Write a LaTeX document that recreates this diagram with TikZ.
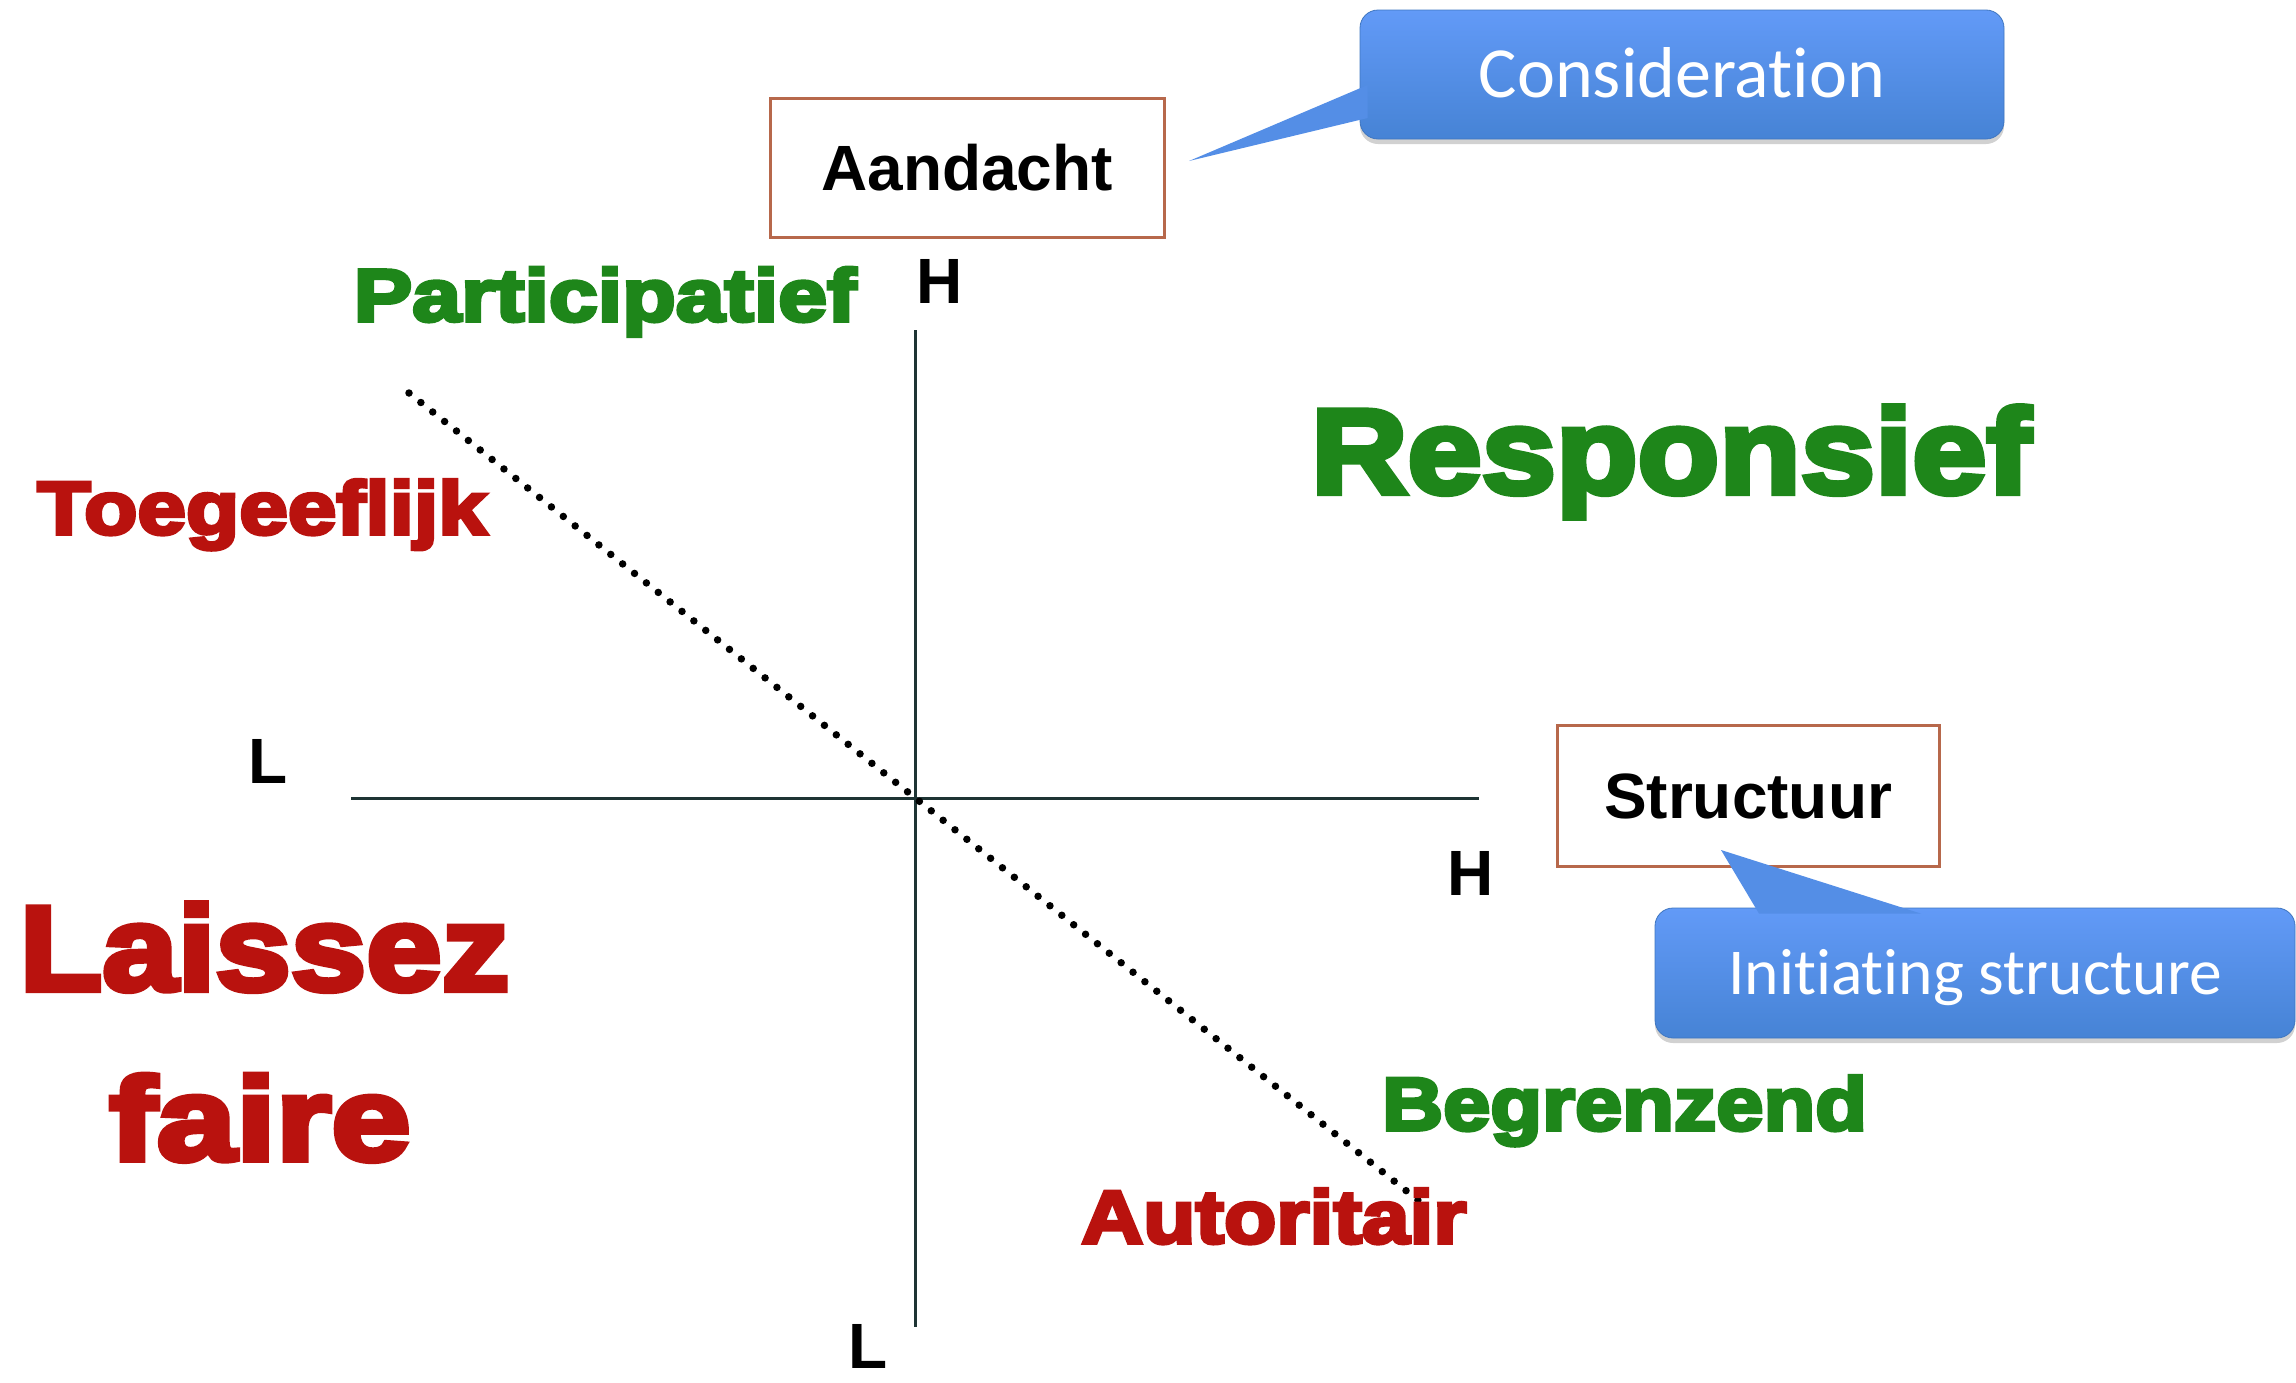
\documentclass[tikz,border=0pt]{standalone}
\usepackage{fontspec}
\setmainfont{Liberation Sans}
\newfontfamily\heavyfont[FakeBold=5,FakeStretch=1.13]{Liberation Sans Bold}
\newfontfamily\labelfont{Liberation Sans Bold}
\newfontfamily\calloutfont[Ligatures=NoCommon]{Carlito}
\usetikzlibrary{calc,shadows}
\definecolor{grn}{RGB}{30,134,26}
\definecolor{rd}{RGB}{185,18,14}
\definecolor{axiscol}{RGB}{30,52,52}
\definecolor{boxcol}{RGB}{183,104,75}
\definecolor{bluetop}{RGB}{98,154,247}
\definecolor{bluebot}{RGB}{70,131,213}
\definecolor{bluemid}{RGB}{84,142,230}
\tikzset{
  axis/.style={draw=axiscol,line width=3pt},
  dotline/.style={draw=black,line width=7.5pt,line cap=round,dash pattern=on 0pt off 15.2pt},
  framebox/.style={draw=boxcol,line width=3pt,fill=white,inner sep=0pt,
     font=\labelfont\fontsize{64}{70}\selectfont,text height=46pt,text depth=0pt},
  callout/.style={rounded corners=18pt,top color=bluetop,bottom color=bluebot,
     draw=bluebot!90!black,line width=0.8pt,inner sep=0pt,text=white,
     drop shadow={shadow xshift=0pt,shadow yshift=-5pt,opacity=0.18,fill=black}},
  tail/.style={fill=bluemid},
  heavy/.style={inner sep=0pt,anchor=base,font=\heavyfont\fontsize{#1}{#1}\selectfont},
  axlabel/.style={inner sep=0pt,anchor=base,font=\labelfont\fontsize{64}{70}\selectfont},
}
\begin{document}
\begin{tikzpicture}[x=1pt,y=-1pt]
\useasboundingbox (0,0) rectangle (2296,1382);
% axes
\coordinate (vtop) at (915,330);
\coordinate (vbot) at (915,1327);
\coordinate (hleft) at (351,798);
\coordinate (hright) at (1479,798);
\coordinate (dstart) at (409,393);
\coordinate (dend) at (1429,1209);
\draw[axis] (vtop) -- (vbot);
\draw[axis] (hleft) -- (hright);
\draw[dotline] (dstart) -- (dend);
% axis labels
\node[axlabel] (htop) at (940,303) {H};
\node[axlabel] (lleft) at (268,783) {L};
\node[axlabel] (hright lbl) at (1471,895) {H};
\node[axlabel] (lbot) at (868,1368) {L};
% boxes
\node[framebox,minimum width=394pt,minimum height=139pt] (aand) at (967,167.5) {Aandacht};
\node[framebox,minimum width=382pt,minimum height=141pt] (struc) at (1748,795.5) {Structuur};
% callouts
\node[callout,minimum width=644pt,minimum height=129pt,
      font=\calloutfont\fontsize{72}{75}\selectfont,text height=46pt,text depth=0pt] (cons) at (1682,74.5) {Consideration};
\coordinate (constip) at (1189,161);
\fill[tail] ($(cons.west)+(8,10.5)$) -- (constip) -- ($(cons.west)+(8,43.5)$) -- cycle;
\node[callout,minimum width=640pt,minimum height=130pt,
      font=\calloutfont\fontsize{65.5}{70}\selectfont,text height=42pt,text depth=0pt] (init) at (1975,973) {Initiating structure};
\coordinate (inittip) at (1721,850);
\fill[tail] ($(init.north)+(-216,6)$) -- (inittip) -- ($(init.north)+(-54,6)$) -- cycle;
% style labels
\node[heavy=74,text=grn,xscale=1.05] (part) at (605,321) {Participatief};
\node[heavy=75,text=rd,xscale=1.03] (toeg) at (262,534) {Toegeeflijk};
\node[heavy=120,text=grn,xscale=0.985] (resp) at (1671,493) {Responsief};
\node[heavy=120,text=rd] (lais) at (264.5,990) {Laissez};
\node[heavy=118,text=rd,xscale=1.07] (fair) at (260,1160) {faire};
\node[heavy=75,text=grn] (begr) at (1624.5,1130) {Begrenzend};
\node[heavy=75,text=rd,xscale=1.01] (auto) at (1274,1243) {Autoritair};
\end{tikzpicture}
\end{document}
